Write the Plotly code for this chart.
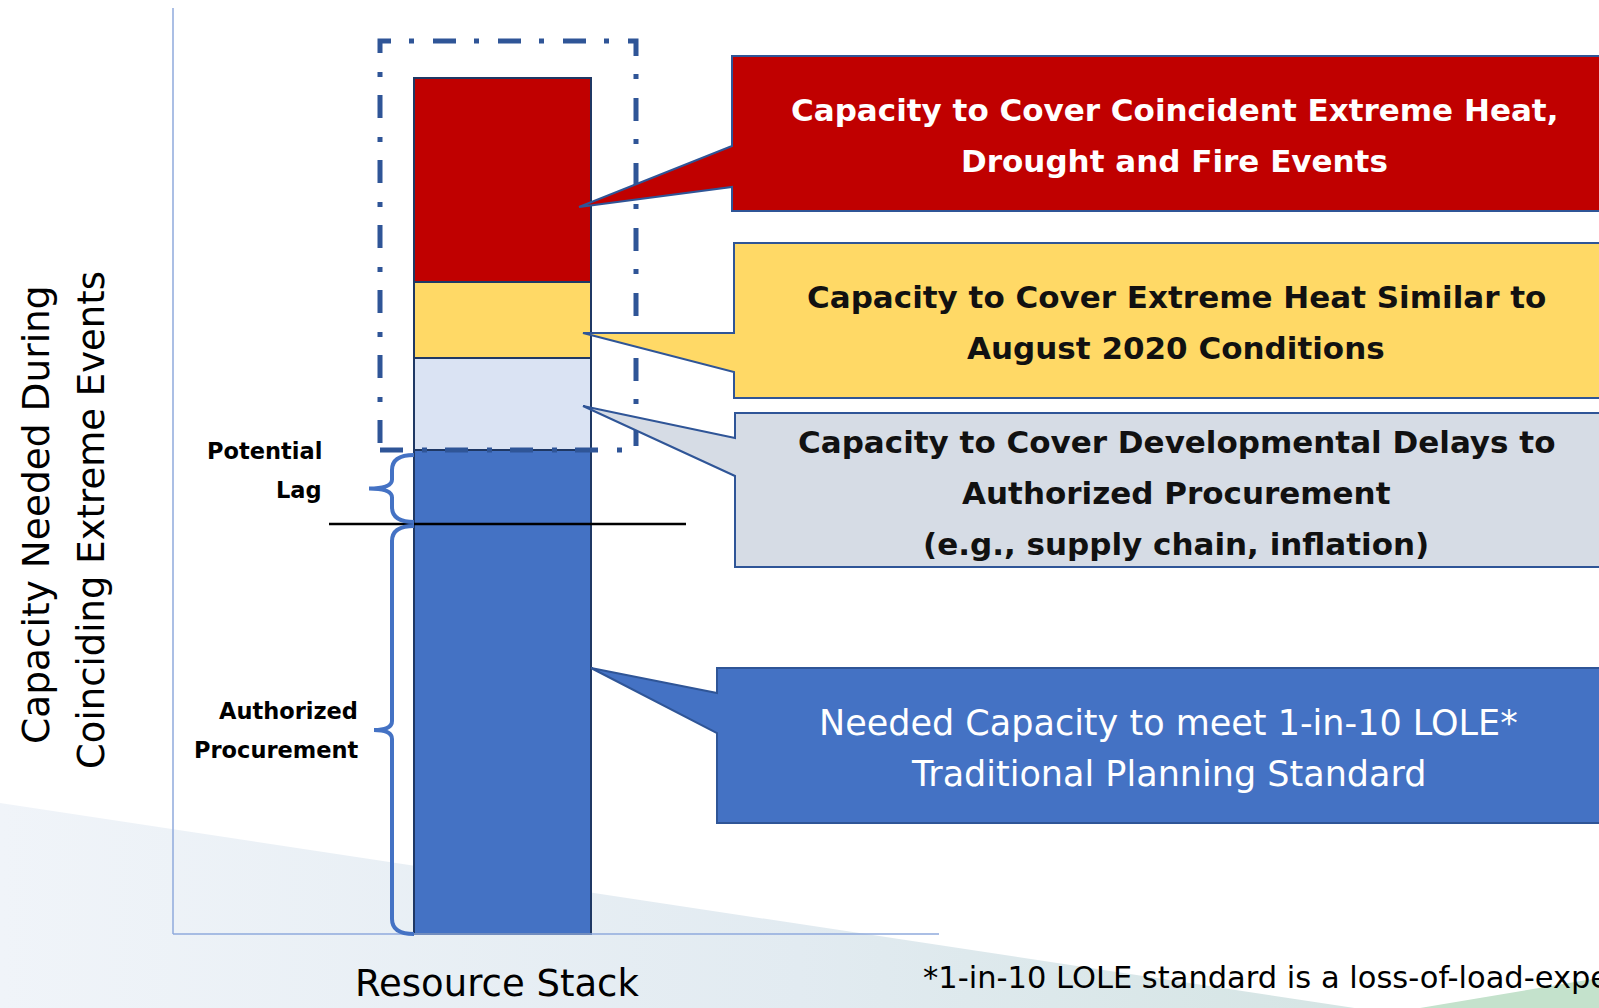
import plotly.graph_objects as go

# ── Stack data (capacity units) ───────────────────────────────────────────────
segment_names = [
    "Needed Capacity (1-in-10 LOLE)",
    "Developmental Delays",
    "Extreme Heat (Aug 2020)",
    "Coincident Heat, Drought, Fire",
]
segment_values = [484, 92, 76, 204]
segment_colors = ["#4472C4", "#DAE3F3", "#FFD966", "#C00000"]
authorized_level = 410          # top of authorized procurement
stack_x = [502.5]
stack_width = 177

W, H = 1599, 1008
BASE = 934                       # pixel row of the zero line


def py(p):
    """pixel row -> y value"""
    return BASE - p


def path(points, close=True):
    s = "M " + " L ".join(f"{x},{py(y)}" for x, y in points)
    return s + (" Z" if close else "")


FONT = "'DejaVu Sans', sans-serif"
OUTLINE = "#2F5597"

fig = go.Figure()

# background wedge with gradient (main axes, drawn underneath)
fig.add_trace(go.Scatter(
    x=[0, W, W, 0, 0], y=[py(803), py(1045), py(H), py(H), py(803)],
    mode="lines", line=dict(width=0), fill="toself",
    fillgradient=dict(type="horizontal",
                      colorscale=[[0, "#F0F4F9"], [0.5, "#E2EBF1"], [1, "#CFE2DE"]]),
    hoverinfo="skip", showlegend=False,
))
fig.add_trace(go.Scatter(
    x=[1420, W, W, 1420], y=[py(H), py(978), py(H), py(H)],
    mode="lines", line=dict(width=0), fill="toself", fillcolor="#C4E2CC",
    hoverinfo="skip", showlegend=False,
))

# the resource stack (overlaid axes so it sits above the background)
for name, val, col in zip(segment_names, segment_values, segment_colors):
    fig.add_trace(go.Bar(
        x=stack_x, y=[val], width=stack_width, name=name,
        marker=dict(color=col, line=dict(color="#1F3864", width=2)),
        xaxis="x2", yaxis="y2",
        hoverinfo="skip", showlegend=False,
    ))

shapes = []
# axes
shapes.append(dict(type="line", x0=173, x1=173, y0=py(8), y1=0,
                   line=dict(color="#8FAADC", width=1.5)))
shapes.append(dict(type="line", x0=173, x1=939, y0=0, y1=0,
                   line=dict(color="#8FAADC", width=1.5)))

# dashed box around the extra capacity
shapes.append(dict(type="rect", x0=380, x1=636, y0=segment_values[0], y1=py(41),
                   line=dict(color=OUTLINE, width=5, dash="23px,19px,5px,18px")))

# authorized procurement line
shapes.append(dict(type="line", x0=329, x1=686, y0=authorized_level, y1=authorized_level,
                   line=dict(color="black", width=2.5)))

# braces
bar_left = stack_x[0] - stack_width / 2
lag_top, lag_bot = segment_values[0] - 5, authorized_level + 2
ap_top, ap_bot = authorized_level - 2, 0
for top, bot, tip_x in [(lag_top, lag_bot, 369), (ap_top, ap_bot, 374)]:
    mid = (top + bot) / 2
    cx = bar_left - 22
    d = (f"M {bar_left},{top} Q {cx},{top} {cx},{top - 15} "
         f"L {cx},{mid + 9} Q {cx},{mid} {tip_x},{mid} "
         f"Q {cx},{mid} {cx},{mid - 9} "
         f"L {cx},{bot + 15} Q {cx},{bot} {bar_left},{bot}")
    shapes.append(dict(type="path", path=d, line=dict(color="#4472C4", width=4)))

# callouts
callouts = [
    ("#C00000", [(732, 56), (1620, 56), (1620, 211), (732, 211), (732, 187), (579, 207), (732, 146)]),
    ("#FFD966", [(734, 243), (1620, 243), (1620, 398), (734, 398), (734, 372), (583, 333), (734, 333)]),
    ("#D6DCE5", [(735, 413), (1620, 413), (1620, 567), (735, 567), (735, 476), (583, 406), (735, 438)]),
    ("#4472C4", [(717, 668), (1620, 668), (1620, 823), (717, 823), (717, 733), (591, 668), (717, 693)]),
]
for fill, pts in callouts:
    shapes.append(dict(type="path", path=path(pts), fillcolor=fill,
                       line=dict(color=OUTLINE, width=2)))

annotations = []


def text(t, x, y, size, color="black", bold=False, xanchor="center", angle=0):
    annotations.append(dict(
        text=f"<b>{t}</b>" if bold else t, x=x, y=py(y), xref="x", yref="y",
        showarrow=False, xanchor=xanchor, yanchor="middle", textangle=angle,
        font=dict(family=FONT, size=size, color=color),
    ))


text("Capacity to Cover Coincident Extreme Heat,", 1174, 110, 31, "white", True)
text("Drought and Fire Events", 1174, 161, 31, "white", True)
text("Capacity to Cover Extreme Heat Similar to", 1176, 297, 31, "#111111", True)
text("August 2020 Conditions", 1176, 348, 31, "#111111", True)
text("Capacity to Cover Developmental Delays to", 1176, 442, 31, "#111111", True)
text("Authorized Procurement", 1176, 493, 31, "#111111", True)
text("(e.g., supply chain, inflation)", 1176, 544, 31, "#111111", True)
text("Needed Capacity to meet 1-in-10 LOLE*", 1168, 723, 35, "white")
text("Traditional Planning Standard", 1168, 774, 35, "white")

text("Potential", 324, 451, 22.5, bold=True, xanchor="right")
text("Lag", 324, 490, 22.5, bold=True, xanchor="right")
text("Authorized", 360, 711, 22.5, bold=True, xanchor="right")
text("Procurement", 360, 750, 22.5, bold=True, xanchor="right")

text("Capacity Needed During", 36, 515, 37.5, angle=-90)
text("Coinciding Extreme Events", 91, 520, 37, angle=-90)
text("Resource Stack", 497, 983, 37)
annotations.append(dict(
    text="*1-in-10 LOLE standard is a loss-of-load-expectation", x=921, y=py(977),
    xref="x", yref="y", showarrow=False, xanchor="left", yanchor="middle",
    font=dict(family=FONT, size=30.5, color="black"),
))

axis_x = dict(range=[0, W], visible=False, fixedrange=True)
axis_y = dict(range=[py(H), py(0)], visible=False, fixedrange=True)
fig.update_layout(
    width=W, height=H,
    margin=dict(l=0, r=0, t=0, b=0),
    paper_bgcolor="white", plot_bgcolor="rgba(0,0,0,0)",
    barmode="stack", showlegend=False,
    xaxis=axis_x, yaxis=axis_y,
    xaxis2=dict(axis_x, overlaying="x"), yaxis2=dict(axis_y, overlaying="y"),
    shapes=shapes, annotations=annotations,
    hovermode=False,
)

fig.write_html("out.html", config={"displayModeBar": False},
               post_script="document.body.style.margin='0';document.body.style.overflow='hidden';")
